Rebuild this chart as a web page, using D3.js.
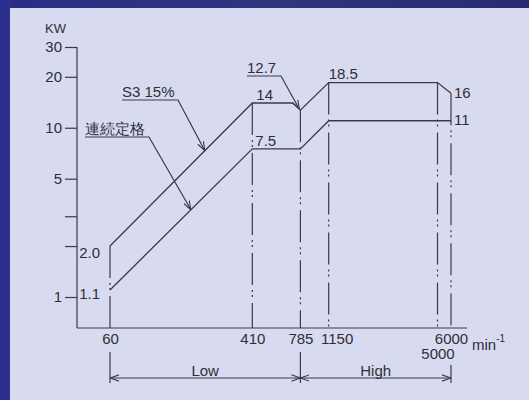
<!DOCTYPE html>
<html>
<head>
<meta charset="utf-8">
<script src="https://cdn.jsdelivr.net/npm/d3@7"></script>
<style>
  body { margin: 0; background: #d8dbf0; }
  svg { display: block; }
  text { font-family: "Liberation Sans", Arial, sans-serif; fill: #2e2e38; }
</style>
</head>
<body>
<div id="chart"></div>
<script>
// speed (min-1) ticks on the bottom axis
var speedTicks = [60, 410, 785, 1150, 6000]
var speedTicks2 = [5000]
// power (kW) ticks
var powerTicks = [1, 2, 3, 5, 10, 20, 30]
var powerLabels = ['1', '', '', '5', '10', '20', '30']

// S3 15% rating
var s3Speed = [60, 410, 710, 785, 1150, 5000, 6000]
var s3Power = [2.0, 14, 14, 12.7, 18.5, 18.5, 16]
// continuous rating (連続定格)
var contSpeed = [60, 410, 785, 1150, 6000]
var contPower = [1.1, 7.5, 7.5, 11, 11]

// chain lines dropped from the curve to the axis
var guideSpeed = [60, 410, 785, 1150, 5000, 6000]
var guidePower = [2.0, 14, 12.7, 18.5, 18.5, 16]

// value labels next to the corners
var valueLabels = ['2.0', '1.1', '14', '7.5', '18.5', '16', '11']
var valueSpeed = [60, 60, 410, 410, 1150, 6000, 6000]
var valuePower = [2.0, 1.1, 14, 7.5, 18.5, 16, 11]

// speed ranges
var rangeNames = ['Low', 'High']
var rangeFrom = [60, 785]
var rangeTo = [785, 6000]

var width = 529
var height = 400
var ink = '#3a3a46'

var x = d3.scaleLog().domain([60, 6000]).range([110, 451])
var y = d3.scaleLog().domain([1, 30]).range([297, 47])
var axisY = 328
var axisX = 77

var svg = d3.select('#chart').append('svg')
    .attr('width', width)
    .attr('height', height)

// panel + blue frame
svg.append('rect').attr('width', width).attr('height', height).attr('fill', '#d8dbf0')
var grad = svg.append('defs').append('linearGradient').attr('id', 'frame')
    .attr('x1', 0).attr('x2', 1).attr('y1', 0).attr('y2', 0)
grad.append('stop').attr('offset', 0).attr('stop-color', '#2b2d86')
grad.append('stop').attr('offset', 0.5).attr('stop-color', '#30357e')
grad.append('stop').attr('offset', 1).attr('stop-color', '#282c6e')
svg.append('rect').attr('width', width).attr('height', 8).attr('fill', 'url(#frame)')
svg.append('rect').attr('width', 10).attr('height', height).attr('fill', '#2d2f8e')

var defs = svg.select('defs')
defs.append('marker').attr('id', 'arr')
    .attr('viewBox', '0 0 10 10').attr('refX', 10).attr('refY', 5)
    .attr('markerWidth', 9).attr('markerHeight', 9).attr('markerUnits', 'userSpaceOnUse')
    .attr('orient', 'auto-start-reverse')
  .append('path').attr('d', 'M0,1.5 L10,5 L0,8.5').attr('fill', 'none')
    .attr('stroke', ink).attr('stroke-width', 1.2)

// axes
var yAxis = d3.axisLeft(y)
    .tickValues(powerTicks)
    .tickSize(12)
    .tickPadding(3)
    .tickFormat(function(d, i) { return powerLabels[i] })
var gy = svg.append('g').attr('transform', 'translate(' + axisX + ',0)').call(yAxis)
gy.select('.domain').remove()
gy.selectAll('line').attr('stroke', ink).attr('stroke-width', 1.2)
gy.selectAll('text').attr('font-size', 15).attr('fill', '#2e2e38').attr('font-family', null)
svg.append('line')
    .attr('x1', axisX).attr('x2', axisX)
    .attr('y1', y(30)).attr('y2', axisY)
    .attr('stroke', ink).attr('stroke-width', 1.2)

var xAxis = d3.axisBottom(x)
    .tickValues(speedTicks)
    .tickSize(0)
    .tickPadding(5)
    .tickFormat(d3.format('d'))
var gx = svg.append('g').attr('transform', 'translate(0,' + axisY + ')').call(xAxis)
gx.select('.domain').remove()
gx.selectAll('text').attr('font-size', 15).attr('fill', '#2e2e38').attr('font-family', null)
    .attr('dx', function(d) { return d === 1150 ? 8 : 0 })
var gx2 = svg.append('g').attr('transform', 'translate(0,' + (axisY + 15) + ')')
    .call(d3.axisBottom(x).tickValues(speedTicks2).tickSize(0).tickPadding(5).tickFormat(d3.format('d')))
gx2.select('.domain').remove()
gx2.selectAll('text').attr('font-size', 15).attr('fill', '#2e2e38').attr('font-family', null)
svg.append('line')
    .attr('x1', axisX).attr('x2', 467)
    .attr('y1', axisY).attr('y2', axisY)
    .attr('stroke', ink).attr('stroke-width', 1.2)

svg.append('text').attr('x', 45).attr('y', 33).attr('font-size', 13).text('KW')
var unit = svg.append('text').attr('x', 472).attr('y', 350).attr('font-size', 15).text('min')
unit.append('tspan').attr('dy', -8).attr('font-size', 10).text('-1')

// chain lines
svg.selectAll('.guide')
    .data(guideSpeed)
    .enter()
    .append('line')
    .attr('class', 'guide')
    .attr('x1', function(d) { return x(d) })
    .attr('x2', function(d) { return x(d) })
    .attr('y1', function(d, i) { return y(guidePower[i]) })
    .attr('y2', axisY)
    .attr('stroke', ink)
    .attr('stroke-width', 1.2)
    .attr('stroke-dasharray', '32,5,2,3,2,6')

// rating curves
var line = d3.line()
    .x(function(d) { return x(d[0]) })
    .y(function(d) { return y(d[1]) })
svg.append('path')
    .datum(d3.zip(s3Speed, s3Power))
    .attr('d', line)
    .attr('fill', 'none').attr('stroke', ink).attr('stroke-width', 1.3)
svg.append('path')
    .datum(d3.zip(contSpeed, contPower))
    .attr('d', line)
    .attr('fill', 'none').attr('stroke', ink).attr('stroke-width', 1.3)

// value labels
var offs = [[-10, 12, 'end'], [-10, 9, 'end'], [4, -3, 'start'], [3, -3, 'start'], [0, -4, 'start'], [3, 5, 'start'], [3, 4, 'start']]
svg.selectAll('.val')
    .data(valueLabels)
    .enter()
    .append('text')
    .attr('class', 'val')
    .attr('x', function(d, i) { return x(valueSpeed[i]) + offs[i][0] })
    .attr('y', function(d, i) { return y(valuePower[i]) + offs[i][1] })
    .attr('text-anchor', function(d, i) { return offs[i][2] })
    .attr('font-size', 15)
    .text(function(d) { return d })

// power on a curve at a given speed (log-log interpolation)
function powerAt(speeds, powers, s) {
    for (var i = 1; i < speeds.length; i++) {
        if (s <= speeds[i]) {
            var t = (Math.log(s) - Math.log(speeds[i - 1])) / (Math.log(speeds[i]) - Math.log(speeds[i - 1]))
            return Math.exp(Math.log(powers[i - 1]) + t * (Math.log(powers[i]) - Math.log(powers[i - 1])))
        }
    }
    return powers[powers.length - 1]
}

// callouts: label, underline, leader with arrow
function callout(label, lx, ly, ulen, fsize, font, tipX, tipY) {
    svg.append('text').attr('x', lx).attr('y', ly).attr('font-size', fsize)
        .attr('font-family', font).text(label)
    svg.append('path')
        .attr('d', 'M' + lx + ',' + (ly + 3) + 'H' + (lx + ulen) + 'L' + tipX + ',' + tipY)
        .attr('fill', 'none').attr('stroke', ink).attr('stroke-width', 1.2)
        .attr('marker-end', 'url(#arr)')
}
callout('S3 15%', 122, 97, 56, 15, null, x(216), y(powerAt(s3Speed, s3Power, 216)))
callout('連続定格', 85, 134, 64, 15, '"Noto Sans CJK JP", sans-serif', x(179), y(powerAt(contSpeed, contPower, 179)))
callout('12.7', 247, 73, 34, 15, null, x(785) - 1, y(12.7) - 1)

// speed ranges
var rangeY = 378
var ext = [[352, 383], [352, 383], [365, 383]]
var extSpeed = [60, 785, 6000]
extSpeed.forEach(function(s, i) {
    svg.append('line').attr('x1', x(s)).attr('x2', x(s))
        .attr('y1', ext[i][0]).attr('y2', ext[i][1])
        .attr('stroke', ink).attr('stroke-width', 1.2)
})
rangeNames.forEach(function(name, i) {
    svg.append('line')
        .attr('x1', x(rangeFrom[i])).attr('x2', x(rangeTo[i]))
        .attr('y1', rangeY).attr('y2', rangeY)
        .attr('stroke', ink).attr('stroke-width', 1.2)
        .attr('marker-start', 'url(#arr)').attr('marker-end', 'url(#arr)')
    svg.append('text')
        .attr('x', (x(rangeFrom[i]) + x(rangeTo[i])) / 2)
        .attr('y', rangeY - 2)
        .attr('text-anchor', 'middle')
        .attr('font-size', 15)
        .text(name)
})
</script>
</body>
</html>
